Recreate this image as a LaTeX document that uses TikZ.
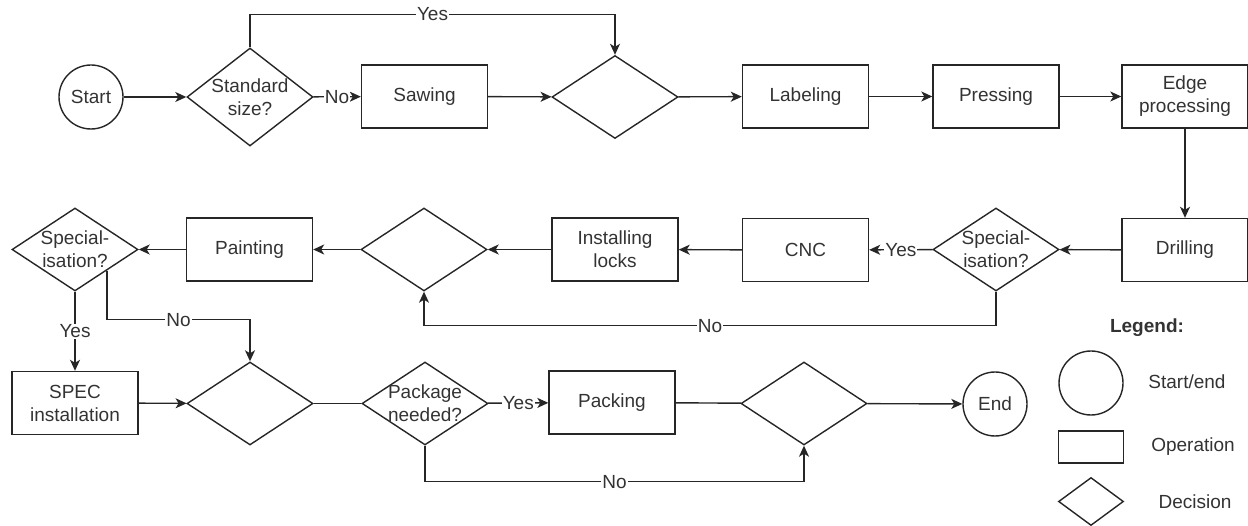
\documentclass[tikz,border=0pt]{standalone}
\usepackage{fontspec}
\setmainfont{Liberation Sans}
\usetikzlibrary{shapes.geometric,arrows.meta,calc}

\begin{document}
\begin{tikzpicture}[x=1pt,y=-1pt,
  every node/.style={font=\fontsize{19}{23}\selectfont, text=black!80},
  op/.style={draw=black!85, line width=1.4pt, minimum width=126pt, minimum height=63pt, inner sep=0pt, align=center},
  dec/.style={draw=black!85, line width=1.4pt, diamond, minimum width=126pt, minimum height=83pt, inner sep=0pt},
  term/.style={draw=black!85, line width=1.4pt, circle, minimum size=64pt, inner sep=0pt},
  dtext/.style={label={[align=center]center:#1}},
  flow/.style={draw=black!85, line width=1.4pt, -{Stealth[length=11pt,width=10pt,inset=3pt]}},
  plain/.style={draw=black!85, line width=1.4pt},
  lbl/.style={fill=white, inner sep=1pt}
]
\useasboundingbox (0,0) rectangle (1248,526);

% first row
\node[term] (start) at (91,97) {Start};
\node[dec, minimum height=98pt, dtext={Standard\\size?}] (std) at (250,97) {};
\node[op] (saw) at (424.5,96.5) {Sawing};
\node[dec] (m1) at (615,97) {};
\node[op] (lab) at (805.5,96.5) {Labeling};
\node[op] (press) at (996,96.5) {Pressing};
\node[op] (edge) at (1185,96.5) {Edge\\processing};

% second row
\node[op] (drill) at (1185,250) {Drilling};
\node[dec, dtext={Special-\\isation?}] (s2) at (996,249.5) {};
\node[op] (cnc) at (805.5,250) {CNC};
\node[op] (lock) at (615,249.5) {Installing\\locks};
\node[dec] (m2) at (424,249.5) {};
\node[op] (paint) at (249.5,249.5) {Painting};
\node[dec, dtext={Special-\\isation?}] (s3) at (75,249.5) {};

% third row
\node[op] (spec) at (75,403) {SPEC\\installation};
\node[dec] (m3) at (250,403.5) {};
\node[dec, dtext={Package\\needed?}] (pkg) at (425,403.5) {};
\node[op] (pack) at (612,402.5) {Packing};
\node[dec] (m4) at (804,403.5) {};
\node[term] (end) at (995,404) {End};

% connectors, first row
\draw[flow] (start) -- (std);
\draw[flow] (std) -- node[lbl]{No} (saw);
\draw[flow] (saw) -- (m1);
\draw[flow] (m1) -- (lab);
\draw[flow] (lab) -- (press);
\draw[flow] (press) -- (edge);
\draw[flow] (std.north) -- ++(0,-33) -| node[lbl, pos=0.25]{Yes} (m1.north);
\draw[flow] (edge) -- (drill);

% connectors, second row
\draw[flow] (drill) -- (s2);
\draw[flow] (s2) -- node[lbl]{Yes} (cnc);
\draw[flow] (cnc) -- (lock);
\draw[flow] (lock) -- (m2);
\draw[flow] (m2) -- (paint);
\draw[flow] (paint) -- (s3);
\draw[flow] (s2.south) -- ++(0,34) -| node[lbl, pos=0.25]{No} (m2.south);
\draw[flow] (s3.south) -- node[lbl]{Yes} (spec.north);
\coordinate (s3no) at ($(s3.south)!0.5!(s3.east)$);
\draw[flow] (s3no) -- ++(0,49) -| node[lbl, pos=0.25]{No} (m3.north);

% connectors, third row
\draw[flow] (spec) -- (m3);
\draw[plain] (m3) -- (pkg);
\draw[flow] (pkg) -- node[lbl]{Yes} (pack);
\draw[flow] (pkg.south) -- ++(0,36) -| node[lbl, pos=0.25]{No} (m4.south);
\draw[plain] (pack) -- (m4);
\draw[flow] (m4) -- (end);

% legend
\node[font=\fontsize{19}{23}\selectfont\bfseries] (leg) at (1147,328) {Legend:};
\node[term] (lc) at (1091,383) {};
\node (lct) at (1187,382) {Start/end};
\node[draw=black!85, line width=1.4pt, minimum width=65pt, minimum height=32pt, inner sep=0pt] (lr) at (1091,447) {};
\node (lrt) at (1193,447) {Operation};
\node[dec, minimum width=65pt, minimum height=48pt] (ld) at (1091,501.5) {};
\node (ldt) at (1195,502) {Decision};
\end{tikzpicture}
\end{document}
